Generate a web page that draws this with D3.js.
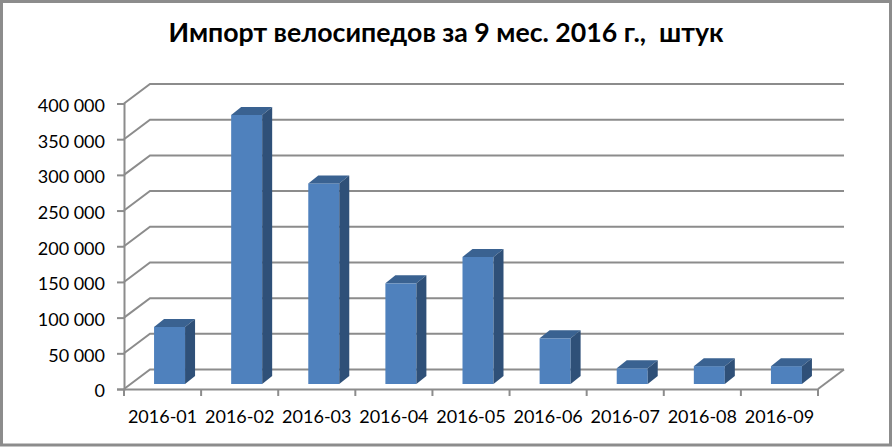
<!DOCTYPE html>
<html>
<head>
<meta charset="utf-8">
<script src="https://cdn.jsdelivr.net/npm/d3@7"></script>
<style>
  html, body { margin: 0; padding: 0; background: #fff; }
  svg { display: block; }
  text { font-family: Lato, "Open Sans", sans-serif; fill: #000; }
</style>
</head>
<body>
<div id="chart"></div>
<script>
const months = ["2016-01", "2016-02", "2016-03", "2016-04", "2016-05", "2016-06", "2016-07", "2016-08", "2016-09"];
const imports = [80000, 377000, 281000, 141000, 178000, 64000, 22000, 25000, 25000];
const yTicks = [0, 50000, 100000, 150000, 200000, 250000, 300000, 350000, 400000];
const titleText = "Импорт велосипедов за 9 мес. 2016 г.,  штук";

const WIDTH = 893, HEIGHT = 447;
const GRID_COLOR = "#8c8c8c";
const DEPTH_X = 26, DEPTH_Y = 19.5;   // floor depth of the 3d box
const BAR_DX = 10, BAR_DY = 8;        // depth of one bar
const BAR_SHIFT_X = 7, BAR_SHIFT_Y = 5;
const BAR_WIDTH = 31;

let svg = d3.select("#chart").append("svg").attr("width", WIDTH).attr("height", HEIGHT);

svg.append("rect").attr("x", 1.5).attr("y", 1.5)
  .attr("width", WIDTH - 4).attr("height", HEIGHT - 3.5)
  .attr("fill", "#fff").attr("stroke", GRID_COLOR).attr("stroke-width", 3);

svg.append("text").attr("x", 446).attr("y", 42).attr("text-anchor", "middle")
  .style("font-size", "26.7px").style("font-weight", "bold")
  .style("white-space", "pre").text(titleText);

let x = d3.scaleBand().domain(months).range([124, 818]);
let y = d3.scaleLinear().domain([0, 400000]).range([389, 103.5]);

// back wall gridlines and the slanted side wall lines
let grid = svg.append("g").attr("fill", "none").attr("stroke", GRID_COLOR).attr("stroke-width", 2);
grid.selectAll("path").data(yTicks).join("path")
  .attr("d", d => {
    let p = d3.path();
    p.moveTo(x.range()[0], y(d));
    p.lineTo(x.range()[0] + DEPTH_X, y(d) - DEPTH_Y);
    p.lineTo(x.range()[1] + DEPTH_X, y(d) - DEPTH_Y);
    return p.toString();
  });
// floor right edge
grid.append("path").attr("d", () => {
  let p = d3.path();
  p.moveTo(x.range()[1], y(0));
  p.lineTo(x.range()[1] + DEPTH_X, y(0) - DEPTH_Y);
  return p.toString();
});

// axes
let yAxis = d3.axisLeft(y).tickValues(yTicks).tickSize(7).tickPadding(12)
  .tickFormat(d => d3.format(",")(d).replace(/,/g, " "));
let yG = svg.append("g").attr("transform", `translate(${x.range()[0]},0)`).call(yAxis);
yG.selectAll("text").style("font-size", "18px").attr("dy", "0.44em");

let tickEdges = x.domain().map(m => x(m)).concat(x.range()[1]);
let xAxis = d3.axisBottom(x).tickSize(0).tickPadding(21);
let xG = svg.append("g").attr("transform", `translate(0,${y(0)})`).call(xAxis);
xG.selectAll("text").style("font-size", "18px");
xG.selectAll(".edge").data(tickEdges).join("line").attr("class", "edge")
  .attr("x1", d => d).attr("x2", d => d).attr("y1", 0).attr("y2", 7);

svg.selectAll(".domain, .tick line, .edge")
  .attr("stroke", GRID_COLOR).attr("stroke-width", 2);

// bars: front, top and side faces
let bars = svg.append("g").selectAll("g").data(months).join("g");
let barLeft = m => x(m) + (x.bandwidth() - BAR_WIDTH) / 2 + BAR_SHIFT_X;
let barTop = (m, i) => y(imports[i]) - BAR_SHIFT_Y;

bars.append("rect")
  .attr("x", barLeft).attr("y", barTop)
  .attr("width", BAR_WIDTH).attr("height", (m, i) => y(0) - y(imports[i]))
  .attr("fill", "#4f81bd");
bars.append("path").attr("fill", "#3a6291").attr("d", (m, i) => {
  let p = d3.path(), a = barLeft(m), b = barTop(m, i);
  p.moveTo(a, b);
  p.lineTo(a + BAR_DX, b - BAR_DY);
  p.lineTo(a + BAR_WIDTH + BAR_DX, b - BAR_DY);
  p.lineTo(a + BAR_WIDTH, b);
  p.closePath();
  return p.toString();
});
bars.append("path").attr("fill", "#2f5078").attr("d", (m, i) => {
  let p = d3.path(), a = barLeft(m) + BAR_WIDTH, b = barTop(m, i), h = y(0) - y(imports[i]);
  p.moveTo(a, b);
  p.lineTo(a + BAR_DX, b - BAR_DY);
  p.lineTo(a + BAR_DX, b - BAR_DY + h);
  p.lineTo(a, b + h);
  p.closePath();
  return p.toString();
});
</script>
</body>
</html>
